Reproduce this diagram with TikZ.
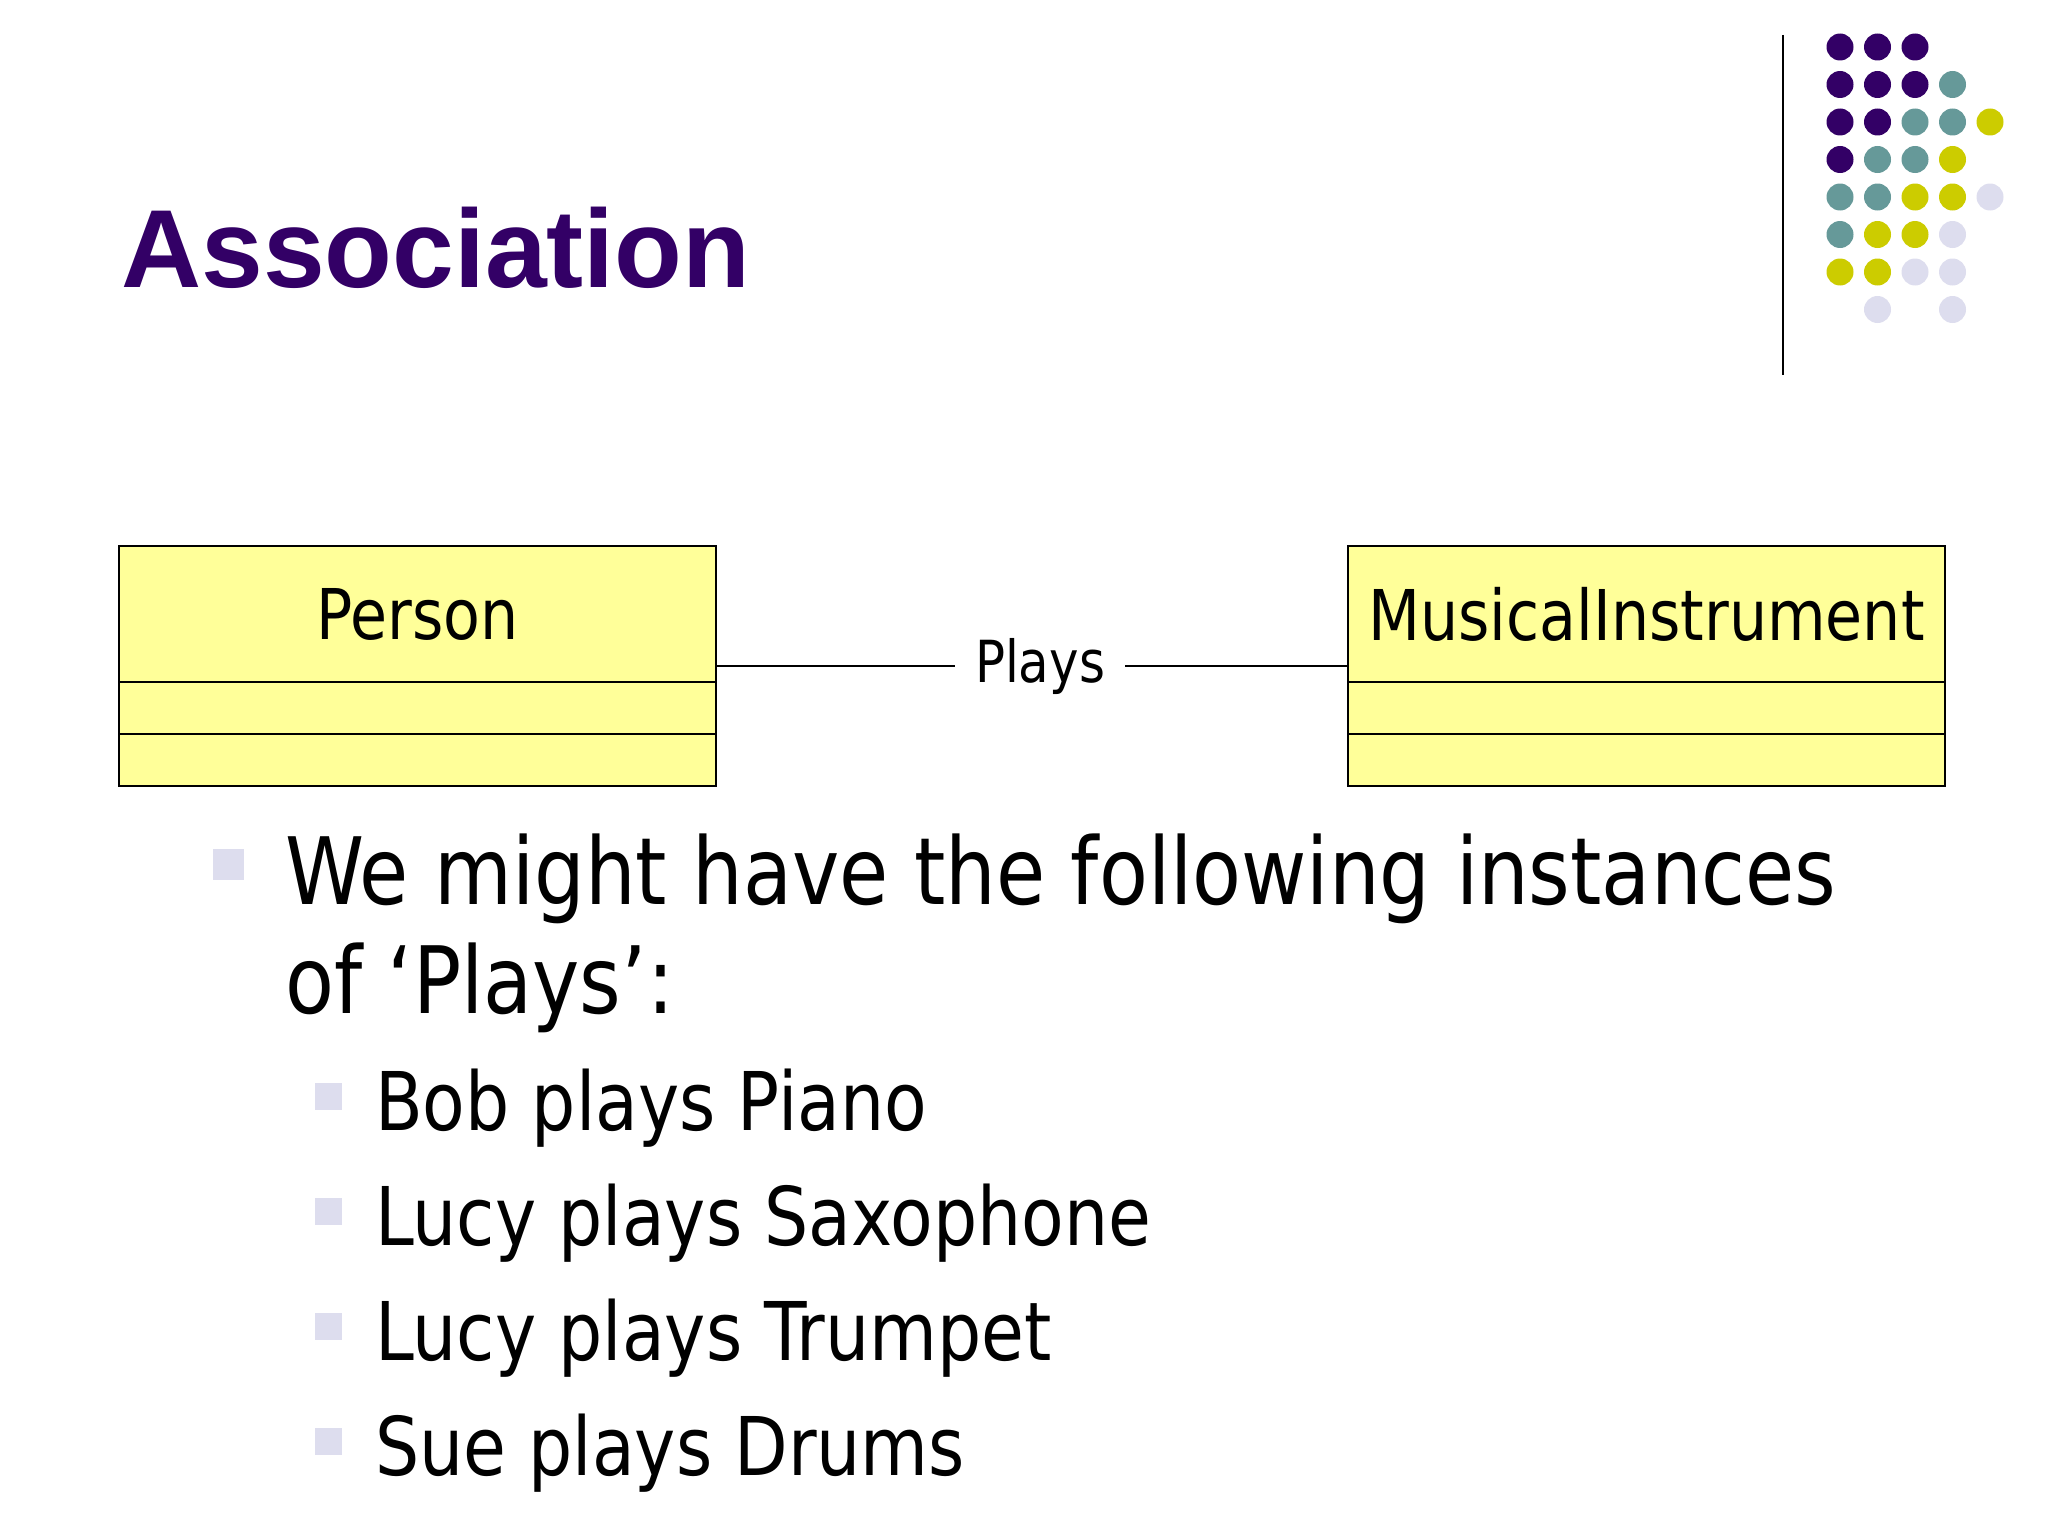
\documentclass[tikz,border=0pt]{standalone}
\usepackage{fontspec}
\setmainfont[FakeStretch=0.86]{DejaVu Sans}
\newfontfamily\titlefont{Liberation Sans}
\usetikzlibrary{positioning}
\usetikzlibrary{calc}
\definecolor{deeppurple}{HTML}{330066}
\definecolor{dotteal}{HTML}{669999}
\definecolor{dotyellow}{HTML}{CCCC00}
\definecolor{dotlavender}{HTML}{DDDDEE}
\definecolor{classfill}{HTML}{FFFF99}

\tikzset{
  classhead/.style={draw,line width=2pt,fill=classfill,outer sep=0pt,minimum width=597pt,minimum height=136pt,font=\fontsize{70}{80}\selectfont},
  compartment/.style={draw,line width=2pt,fill=classfill,outer sep=0pt,minimum width=597pt,minimum height=52pt},
  bodytext/.style={anchor=base west,inner sep=0pt,font=\fontsize{93}{110}\selectfont},
  subtext/.style={anchor=base west,inner sep=0pt,font=\fontsize{81}{96}\selectfont},
  bulletsq/.style={fill=dotlavender,inner sep=0pt,minimum size=#1},
}

\begin{document}
\begin{tikzpicture}[x=1pt,y=-1pt]
  \useasboundingbox[fill=white] (0,0) rectangle (2048,1536);
  % title and the side ornament
  \node[anchor=base west,inner sep=0pt,text=deeppurple,font=\titlefont\bfseries\fontsize{111}{130}\selectfont] (title) at (121,287) {Association};
  \draw[line width=2pt] (1783,35) -- (1783,375);
  \foreach \c/\r/\col in {0/0/deeppurple,1/0/deeppurple,2/0/deeppurple,
      0/1/deeppurple,1/1/deeppurple,2/1/deeppurple,3/1/dotteal,
      0/2/deeppurple,1/2/deeppurple,2/2/dotteal,3/2/dotteal,4/2/dotyellow,
      0/3/deeppurple,1/3/dotteal,2/3/dotteal,3/3/dotyellow,
      0/4/dotteal,1/4/dotteal,2/4/dotyellow,3/4/dotyellow,4/4/dotlavender,
      0/5/dotteal,1/5/dotyellow,2/5/dotyellow,3/5/dotlavender,
      0/6/dotyellow,1/6/dotyellow,2/6/dotlavender,3/6/dotlavender,
      1/7/dotlavender,3/7/dotlavender}
    \fill[\col] (1840+37.5*\c,47+37.5*\r) circle[radius=13.5pt];

  % the two classes
  \node[classhead] (person) at (417.5,614) {Person};
  \node[compartment,below=0pt of person] (personattr) {};
  \node[compartment,below=0pt of personattr] (personops) {};
  \node[classhead] (instr) at (1646.5,614) {MusicalInstrument};
  \node[compartment,below=0pt of instr] (instrattr) {};
  \node[compartment,below=0pt of instrattr] (instrops) {};

  % association
  \coordinate (pside) at ($(person.north east)!0.5!(personops.south east)$);
  \coordinate (iside) at ($(instr.north west)!0.5!(instrops.south west)$);
  \node[inner xsep=20pt,font=\fontsize{58}{70}\selectfont] (plays) at ($(pside)!0.5!(iside)+(8,0)$) {Plays};
  \draw[line width=2pt] (pside) -- (plays.west);
  \draw[line width=2pt] (plays.east) -- (iside);

  % bullets
  \node[bulletsq=31pt] (b1) at (228.5,864.5) {};
  \node[bodytext] (line1) at (285,904) {We might have the following instances};
  \node[bodytext] (line2) at (285,1013) {of ‘Plays’:};
  \foreach \inst [count=\i] in {Bob plays Piano,Lucy plays Saxophone,Lucy plays Trumpet,Sue plays Drums}{
    \node[bulletsq=27pt] (sb\i) at (328.5,981.5+115*\i) {};
    \node[subtext] (st\i) at (375,1015+115*\i) {\inst};
  }
\end{tikzpicture}
\end{document}
